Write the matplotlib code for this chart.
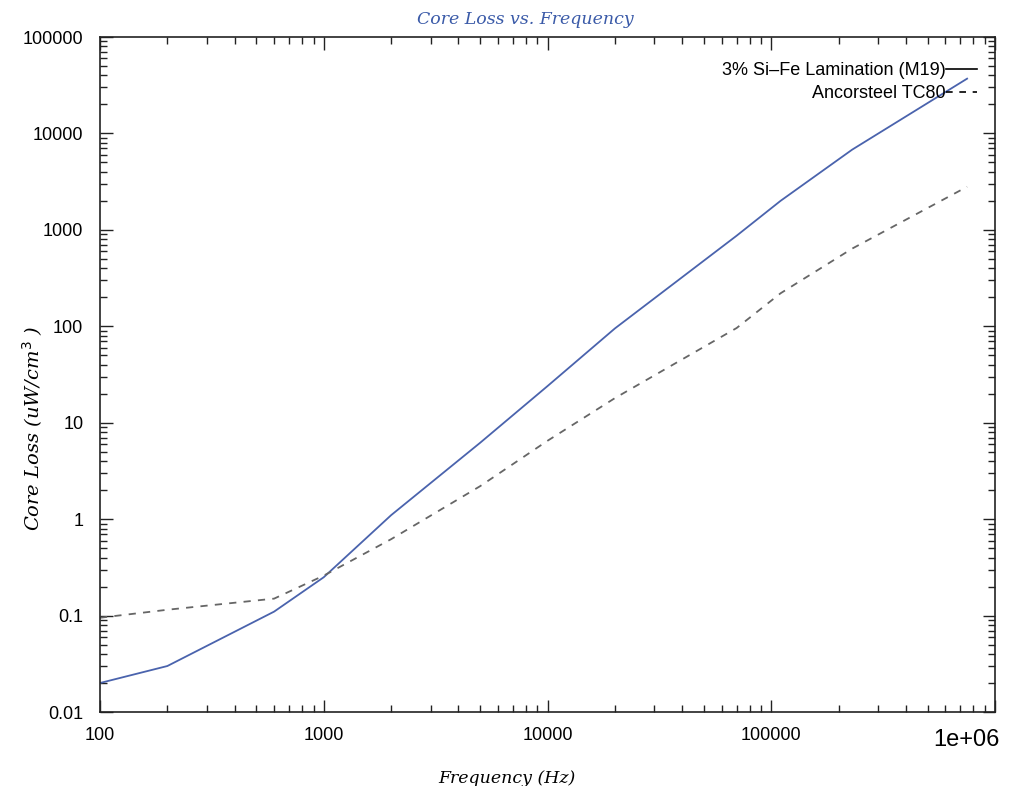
import matplotlib
matplotlib.use('Agg')
import matplotlib.pyplot as plt
from matplotlib.lines import Line2D
from matplotlib.ticker import LogLocator, FixedLocator, NullFormatter

# data
freq_m19 = [100, 200, 600, 1000, 2000, 5000, 10000, 20000, 70000, 110000, 230000, 750000]
loss_m19 = [0.02, 0.03, 0.11, 0.25, 1.1, 6.2, 24, 95, 870, 2000, 6800, 37000]

freq_tc80 = [100, 200, 600, 1000, 2000, 5000, 10000, 20000, 70000, 110000, 230000, 750000]
loss_tc80 = [0.095, 0.115, 0.15, 0.26, 0.62, 2.2, 6.5, 18, 96, 220, 640, 2800]

x_ticks = [100, 1000, 10000, 100000, 1000000]
x_labels = ['100', '1000', '10000', '100000', '1e+06']
y_ticks = [0.01, 0.1, 1, 10, 100, 1000, 10000, 100000]
y_labels = ['0.01', '0.1', '1', '10', '100', '1000', '10000', '100000']

blue = '#4a63ad'
gray = '#666666'

fig = plt.figure(figsize=(10.35, 7.86), dpi=100)
ax = fig.add_axes([0.0966, 0.0941, 0.8648, 0.8588])

ax.plot(freq_m19, loss_m19, color=blue, linewidth=1.3)
ax.plot(freq_tc80, loss_tc80, color=gray, linewidth=1.3, linestyle=(0, (4, 4)))

ax.set_xscale('log')
ax.set_yscale('log')
ax.set_xlim(100, 1000000)
ax.set_ylim(0.01, 100000)

# last x label is drawn bigger and a bit to the left, like the original
ax.xaxis.set_major_locator(FixedLocator(x_ticks))
ax.set_xticklabels(x_labels[:-1] + [''], fontsize=13, family='Liberation Sans')
ax.text(0.9676, -0.041, x_labels[-1], transform=ax.transAxes, ha='center', va='center',
        fontsize=17, family='Liberation Sans')
ax.yaxis.set_major_locator(FixedLocator(y_ticks))
ax.set_yticklabels(y_labels, fontsize=13, family='Liberation Sans')
ax.xaxis.set_minor_locator(LogLocator(base=10, subs=range(2, 10), numticks=20))
ax.yaxis.set_minor_locator(LogLocator(base=10, subs=range(2, 10), numticks=20))
ax.xaxis.set_minor_formatter(NullFormatter())
ax.yaxis.set_minor_formatter(NullFormatter())

ax.tick_params(which='both', direction='in', top=True, right=True, width=1, color='#222222')
ax.tick_params(which='major', length=9)
ax.tick_params(axis='y', which='major', pad=12)
ax.tick_params(axis='x', which='major', pad=11)
ax.tick_params(which='minor', length=5)
for s in ax.spines.values():
    s.set_linewidth(1.2)
    s.set_color('#222222')

fig.text(0.508, 0.975, 'Core Loss vs. Frequency', fontsize=12.5, style='italic',
         family='DejaVu Serif', color='#3a5aa8', ha='center', va='center')
ax.set_xlabel('Frequency (Hz)', fontsize=12.5, style='italic', family='DejaVu Serif')
ax.xaxis.set_label_coords(0.455, -0.086)
ax.set_ylabel('Core Loss (uW/cm$^{3}$ )', fontsize=14, style='italic', family='DejaVu Serif')
ax.yaxis.set_label_coords(-0.061, 0.42)

handles = [Line2D([], [], color='black', linewidth=1.2),
           Line2D([], [], color='black', linewidth=1.2, linestyle=(0, (4, 4)))]
ax.legend(handles, ['3% Si\u2013Fe Lamination (M19)', 'Ancorsteel TC80'], loc='upper right',
          bbox_to_anchor=(0.98, 0.963), borderaxespad=0, borderpad=0,
          frameon=False, markerfirst=False, handlelength=1.7, handletextpad=0.05,
          labelspacing=0.35, prop={'family': 'Liberation Sans', 'size': 13})

fig.savefig('out.png', dpi=100)
